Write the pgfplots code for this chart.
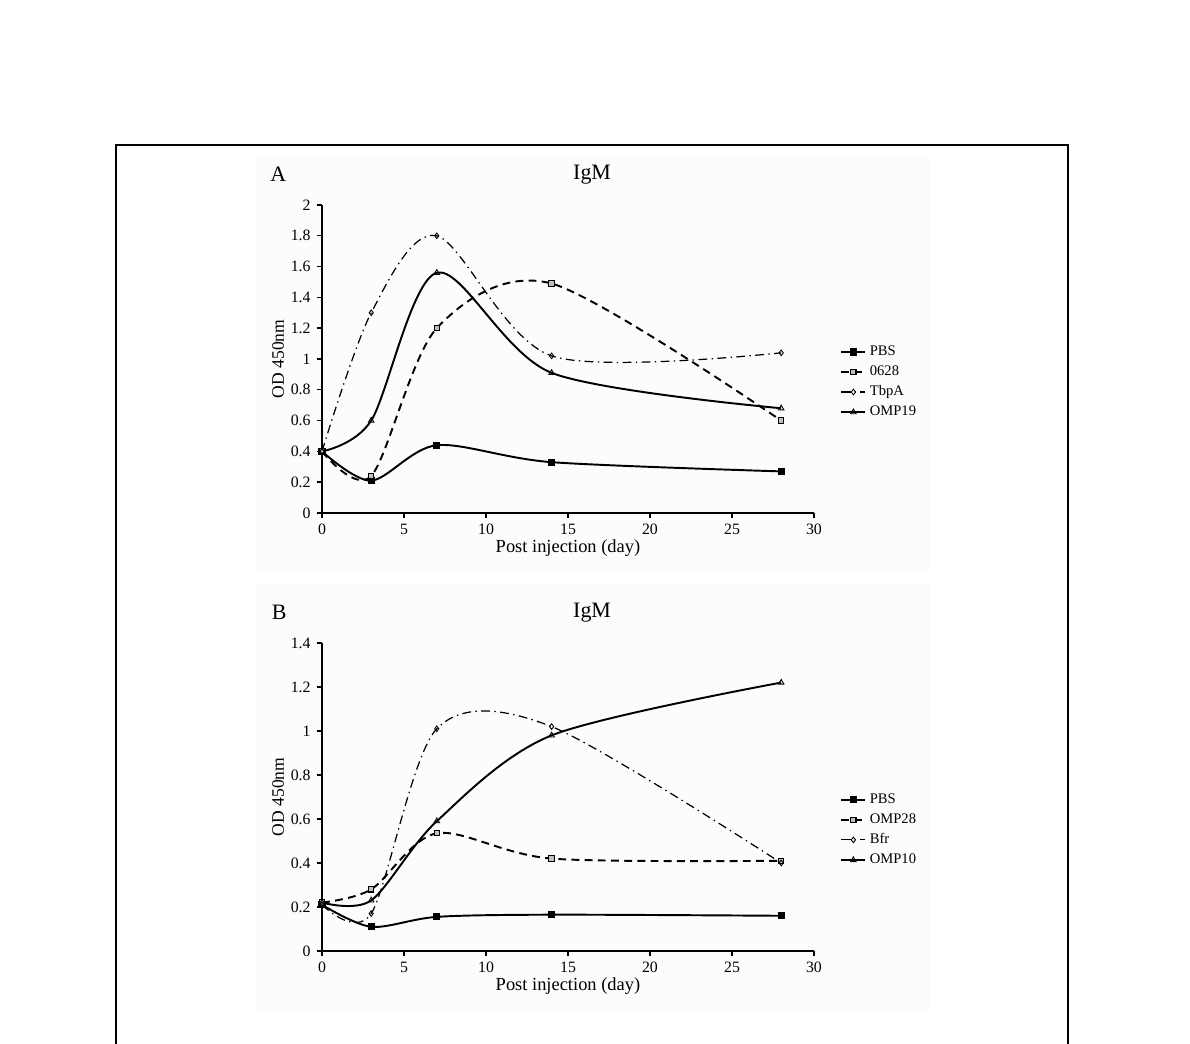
\documentclass[border=0pt]{standalone}
\usepackage{fontspec}
\setmainfont{Liberation Serif}
\usepackage{pgfplots}
\pgfplotsset{compat=1.18}

\pgfplotsset{
  igm/.style={
    width=9.84cm, height=6.16cm, scale only axis,
    anchor=south west,
    axis lines*=left,
    axis line style={line width=1pt},
    xmin=0, xmax=30, xtick={0,5,...,30},
    tick align=outside, tick style={black, line width=0.8pt},
    major tick length=3pt,
    tick label style={font=\fontsize{9}{10}\selectfont},
    /pgf/number format/assume math mode=true,
    xlabel={Post injection (day)},
    ylabel={OD 450nm},
    xlabel style={font=\fontsize{10.5}{11}\selectfont, yshift=4pt},
    ylabel style={font=\fontsize{10}{11}\selectfont, yshift=-3pt},
    clip=false,
    legend cell align=left,
    legend style={draw=none, fill=none, font=\fontsize{8.3}{9}\selectfont,
      anchor=west, row sep=0.3pt, inner sep=0pt},
    legend image code/.code={\draw[mark repeat=2,mark phase=2,#1]
      plot coordinates {(0cm,0cm) (0.24cm,0cm) (0.48cm,0cm)};},
  },
  pbs/.style={black, line width=1.1pt, smooth, mark=square*, mark size=1.5pt},
  dsh/.style={black, line width=1.1pt, smooth, dash pattern=on 4.5pt off 3pt,
    mark=square*, mark size=1.5pt, mark options={solid, fill=gray!50, line width=0.6pt}},
  dd/.style={black, line width=0.7pt, smooth, dash pattern=on 5pt off 2.5pt on 0.8pt off 2.5pt,
    mark=diamond, mark size=1.6pt, mark options={solid, line width=0.5pt}},
  tri/.style={black, line width=1.1pt, smooth, mark=triangle, mark size=1.8pt,
    mark options={solid, line width=0.5pt}},
}

\begin{document}
\begin{tikzpicture}
\useasboundingbox (0,0) rectangle (23.8,20.88);
\fill[white] (0,0) rectangle (23.8,20.88);
\fill[black!1] (5.1,9.4) rectangle (18.6,17.8);
\fill[black!1] (5.1,0.6) rectangle (18.6,9.2);
\draw[line width=1.2pt] (2.32,0) -- (2.32,17.98) -- (21.36,17.98) -- (21.36,0);

\begin{axis}[igm, at={(6.44cm,10.62cm)},
    ymin=0, ymax=2, ytick={0,0.2,...,2.01},
    legend style={at={(rel axis cs:1.053,0.425)}}]
  \addplot[pbs] coordinates {(0,0.40) (3,0.21) (7,0.44) (14,0.33) (28,0.27)};
  \addlegendentry{PBS}
  \addplot[dsh] coordinates {(0,0.40) (3,0.24) (7,1.20) (14,1.49) (28,0.60)};
  \addlegendentry{0628}
  \addplot[dd] coordinates {(0,0.40) (3,1.30) (7,1.80) (14,1.02) (28,1.04)};
  \addlegendentry{TbpA}
  \addplot[tri] coordinates {(0,0.40) (3,0.60) (7,1.56) (14,0.91) (28,0.68)};
  \addlegendentry{OMP19}
  \node[font=\fontsize{12.5}{13}\selectfont] at (rel axis cs:0.549,1.097) {IgM};
  \node[font=\fontsize{12.5}{13}\selectfont] at (rel axis cs:-0.089,1.10) {A};
\end{axis}

\begin{axis}[igm, at={(6.44cm,1.86cm)},
    ymin=0, ymax=1.4, ytick={0,0.2,...,1.41},
    legend style={at={(rel axis cs:1.053,0.393)}}]
  \addplot[pbs] coordinates {(0,0.21) (3,0.11) (7,0.155) (14,0.165) (28,0.16)};
  \addlegendentry{PBS}
  \addplot[dsh] coordinates {(0,0.22) (3,0.28) (7,0.535) (14,0.42) (28,0.41)};
  \addlegendentry{OMP28}
  \addplot[dd] coordinates {(0,0.21) (3,0.17) (7,1.01) (14,1.02) (28,0.40)};
  \addlegendentry{Bfr}
  \addplot[tri] coordinates {(0,0.22) (3,0.23) (7,0.59) (14,0.98) (28,1.22)};
  \addlegendentry{OMP10}
  \node[font=\fontsize{12.5}{13}\selectfont] at (rel axis cs:0.549,1.10) {IgM};
  \node[font=\fontsize{12.5}{13}\selectfont] at (rel axis cs:-0.087,1.10) {B};
\end{axis}
\end{tikzpicture}
\end{document}
